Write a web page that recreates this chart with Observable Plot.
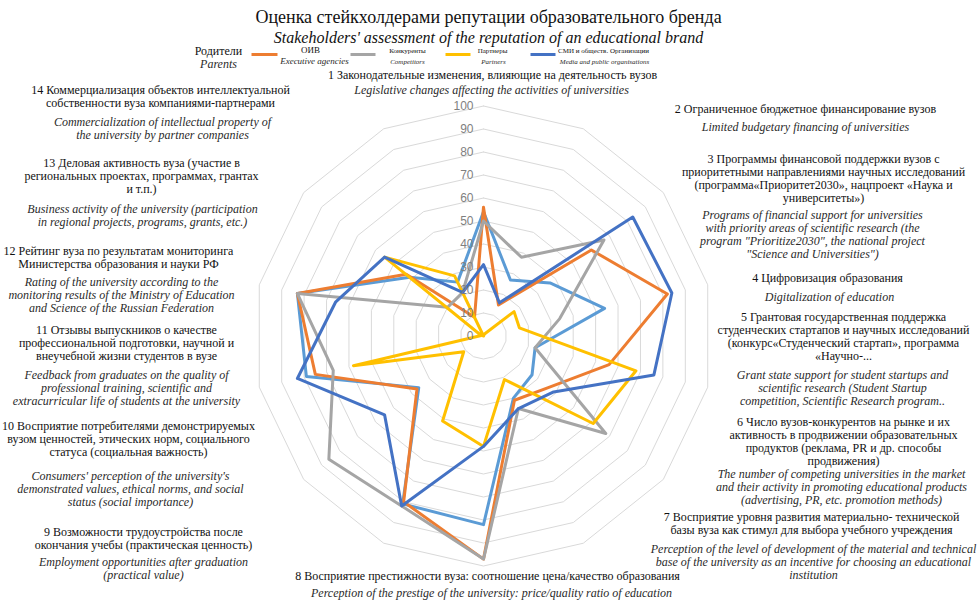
<!DOCTYPE html>
<html><head><meta charset="utf-8">
<script src="https://cdn.jsdelivr.net/npm/d3@7"></script>
<script src="https://cdn.jsdelivr.net/npm/@observablehq/plot@0.6"></script>
<style>
body{margin:0;background:#fff;}
#chart{width:978px;height:601px;overflow:hidden;}
</style></head><body><div id="chart"></div>
<script>
// ---------- DATA ----------
const axisIds = [1,2,3,4,5,6,7,8,9,10,11,12,13,14];
const parents     = [54,27,37,54,23,27,30,82,81,36,79,83,41,26];
const executive   = [56,15,60,82,56,36,31,97,80,37,75,83,43,9];
const competitors = [50,38,67,34,23,68,35,97,82,86,67,83,20,21];
const partners    = [0,1,17,16,68,61,21,48,41,11,58,1,55,29];
const media       = [31,16,83,84,76,39,35,48,82,55,83,66,55,21];
const tickValues  = [0,10,20,30,40,50,60,70,80,90,100];

const titleRu = "Оценка стейкхолдерами репутации образовательного бренда";
const titleEn = "Stakeholders' assessment of the reputation of an educational brand";
const legendRu = ["Родители","ОИВ","Конкуренты","Партнеры","СМИ и обществ. Организации"];
const legendEn = ["Parents","Executive agencies","Competitors","Partners","Media and public organisations"];

const catRu = [
 ["1 Законодательные изменения, влияющие на деятельность вузов"],
 ["2 Ограниченное бюджетное финансирование вузов"],
 ["3 Программы финансовой поддержки вузов с","приоритетными направлениями научных исследований","(программа«Приоритет2030», нацпроект «Наука и","университеты»)"],
 ["4 Цифровизация образования"],
 ["5 Грантовая государственная поддержка","студенческих стартапов и научных исследований","(конкурс«Студенческий стартап», программа","«Научно-..."],
 ["6 Число вузов-конкурентов на рынке и их","активность в продвижении образовательных","продуктов (реклама, PR и др. способы","продвижения)"],
 ["7 Восприятие уровня развития материально- технической","базы вуза как стимул для выбора учебного учреждения"],
 ["8 Восприятие престижности вуза: соотношение цена/качество образования"],
 ["9 Возможности трудоустройства после","окончания учебы (практическая ценность)"],
 ["10 Восприятие потребителями демонстрируемых","вузом ценностей, этических норм, социального","статуса (социальная важность)"],
 ["11 Отзывы выпускников о качестве","профессиональной подготовки, научной и","внеучебной жизни студентов в вузе"],
 ["12 Рейтинг вуза по результатам мониторинга","Министерства образования и науки РФ"],
 ["13 Деловая активность вуза (участие в","региональных проектах, программах, грантах","и т.п.)"],
 ["14 Коммерциализация объектов интеллектуальной","собственности вуза компаниями-партнерами"]
];
const catEn = [
 ["Legislative changes affecting the activities of universities"],
 ["Limited budgetary financing of universities"],
 ["Programs of financial support for universities","with priority areas of scientific research (the","program \"Prioritize2030\", the national project","\"Science and Universities\")"],
 ["Digitalization of education"],
 ["Grant state support for student startups and","scientific research (Student Startup","competition, Scientific Research program.."],
 ["The number of competing universities in the market","and their activity in promoting educational products","(advertising, PR, etc. promotion methods)"],
 ["Perception of the level of development of the material and technical","base of the university as an incentive for choosing an educational","institution"],
 ["Perception of the prestige of the university: price/quality ratio of education"],
 ["Employment opportunities after graduation","(practical value)"],
 ["Consumers' perception of the university's","demonstrated values, ethical norms, and social","status (social importance)"],
 ["Feedback from graduates on the quality of","professional training, scientific and","extracurricular life of students at the university"],
 ["Rating of the university according to the","monitoring results of the Ministry of Education","and Science of the Russian Federation"],
 ["Business activity of the university (participation","in regional projects, programs, grants, etc.)"],
 ["Commercialization of intellectual property of","the university by partner companies"]
];

// ---------- LAYOUT (pixels) ----------
const W = 978, H = 601, CX = 483, CY = 335.5, R = 230;
const k = R / 100;
const px2x = p => (p - CX) / k;
const py2y = p => (CY - p) / k;
const pitch = 13;
// [ruCenterX, ruFirstY, enCenterX, enFirstY]
const labelPos = [
 [492,75,491,90],[805,109,805,127],[823,159,812,215],[827,278,829,297],
 [843,317,842,375],[843,422,841,474],[811,517,813,549],[487,576,491,593],
 [143,532,143,562],[128,426,130,476],[126,330,126,375],[118,251,121,282],
 [141,163,142,209],[160,90,162,122]
];
const seriesList = [
 {name:"parents", vals:parents, color:"#5B9BD5"},
 {name:"executive", vals:executive, color:"#ED7D31"},
 {name:"competitors", vals:competitors, color:"#A5A5A5"},
 {name:"partners", vals:partners, color:"#FFC000"},
 {name:"media", vals:media, color:"#4472C4"}
];

const n = axisIds.length;
const ang = i => 2 * Math.PI * i / n;
const pt = (v, i) => ({x: v * Math.sin(ang(i)), y: v * Math.cos(ang(i))});

const ringData = [];
for (const t of tickValues.slice(1)) {
  for (let i = 0; i <= n; i++) ringData.push({t, ...pt(t, i % n)});
}

const serif = "'Liberation Serif','Times New Roman',serif";
const marks = [];
marks.push(Plot.line(ringData, {x:"x", y:"y", z:"t", stroke:"#d9d9d9", strokeWidth:1}));

for (const s of seriesList) {
  const d = [];
  for (let i = 0; i <= n; i++) d.push(pt(s.vals[i % n], i % n));
  marks.push(Plot.line(d, {x:"x", y:"y", stroke:s.color, strokeWidth:3, strokeLinejoin:"round", curve:"linear"}));
}

marks.push(Plot.text(tickValues, {x:0, y:d=>d, text:d=>String(d), textAnchor:"end", dx:-10,
  fill:"#7f7f7f", fontSize:12, fontFamily:"'Liberation Sans',Arial,sans-serif"}));

// category labels
const ruLines = [], enLines = [];
catRu.forEach((lines, c) => lines.forEach((s, j) => ruLines.push({s, x:px2x(labelPos[c][0]), y:py2y(labelPos[c][1] + j*pitch)})));
catEn.forEach((lines, c) => lines.forEach((s, j) => enLines.push({s, x:px2x(labelPos[c][2]), y:py2y(labelPos[c][3] + j*pitch)})));
marks.push(Plot.text(ruLines, {x:"x", y:"y", text:"s", textAnchor:"middle", fill:"#111", fontSize:12, fontFamily:serif}));
marks.push(Plot.text(enLines, {x:"x", y:"y", text:"s", textAnchor:"middle", fill:"#2a2a2a", fontSize:12, fontStyle:"italic", fontFamily:serif}));

// title
marks.push(Plot.text([titleRu], {x:px2x(488), y:py2y(17), text:d=>d, fontSize:18, fill:"#111", fontFamily:serif}));
marks.push(Plot.text([titleEn], {x:px2x(488), y:py2y(37), text:d=>d, fontSize:16, fill:"#111", fontStyle:"italic", fontFamily:serif}));

// legend
const legTextPos = [[218,51,218,64,12],[310,49.5,314,60.5,9],[407,50,407,61,7],[492,50,493,61,7],[603,50,604,61,7]];
const swatchX = [null,[251,277],[350,375],[445,470],[530,555]];
const legRu = legendRu.map((s,i)=>({s, x:px2x(legTextPos[i][0]), y:py2y(legTextPos[i][1]), f:legTextPos[i][4]}));
const legEn = legendEn.map((s,i)=>({s, x:px2x(legTextPos[i][2]), y:py2y(legTextPos[i][3]), f:legTextPos[i][4]}));
for (const f of [12,9,7]) {
  marks.push(Plot.text(legRu.filter(d=>d.f===f), {x:"x", y:"y", text:"s", fontSize:f, fill:"#111", fontFamily:serif}));
  marks.push(Plot.text(legEn.filter(d=>d.f===f), {x:"x", y:"y", text:"s", fontSize:f, fill:"#2a2a2a", fontStyle:"italic", fontFamily:serif}));
}
seriesList.forEach((s,i)=>{
  if (swatchX[i]) marks.push(Plot.link([{x1:px2x(swatchX[i][0]), x2:px2x(swatchX[i][1]), y:py2y(54)}],
    {x1:"x1", x2:"x2", y1:"y", y2:"y", stroke:s.color, strokeWidth:3}));
});

const chart = Plot.plot({
  width: W, height: H, margin: 0,
  x: {domain:[px2x(0), px2x(W)], axis:null},
  y: {domain:[py2y(H), py2y(0)], axis:null},
  style: {background:"#fff"},
  marks
});
document.getElementById("chart").appendChild(chart);
</script></body></html>
